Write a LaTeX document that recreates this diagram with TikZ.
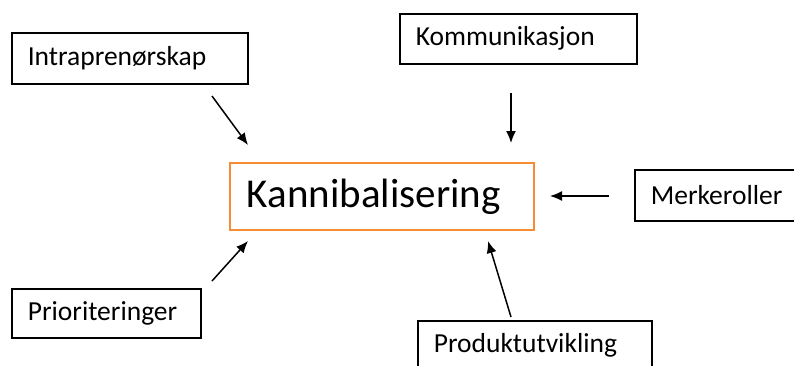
\documentclass[tikz,border=0pt]{standalone}
\usepackage{fontspec}
\setmainfont{Carlito}
\usetikzlibrary{arrows.meta}
\definecolor{boxorange}{RGB}{247,140,50}

\begin{document}
\begin{tikzpicture}[x=1pt, y=-1pt,
  every node/.style={font=\fontsize{27.5}{32}\selectfont},
  factor/.style={draw, line width=1.6pt, anchor=north west, inner xsep=16pt, align=left},
  pil/.style={-{Latex[length=12pt,width=10pt]}, line width=1.5pt}]
  % frame
  \clip (0,0) rectangle (794,365);

  % centre
  \node[factor, draw=boxorange, line width=1.8pt, inner xsep=17pt, text width=270pt,
        minimum height=67pt, font=\fontsize{41}{46}\selectfont] (kanni) at (229,162) {Kannibalisering};

  % surrounding factors
  \node[factor, text width=204pt, minimum height=51pt] (intra) at (11,32) {Intraprenørskap};
  \node[factor, text width=205pt, minimum height=50pt] (komm) at (399,13) {Kommunikasjon};
  \node[factor, text width=138pt, minimum height=51pt] (merke) at (634,169) {Merkeroller};
  \node[factor, text width=157pt, minimum height=49pt] (prio) at (11,288) {Prioriteringer};
  \node[factor, text width=202pt, minimum height=50pt] (prod) at (417,320) {Produktutvikling};

  % arrow ends
  \coordinate (intraA) at (212,96);  \coordinate (intraB) at (248,145);
  \coordinate (kommA) at (511,93);   \coordinate (kommB) at (511,143);
  \coordinate (merkeA) at (609,196); \coordinate (merkeB) at (550,196);
  \coordinate (prioA) at (212,281);  \coordinate (prioB) at (248,241);
  \coordinate (prodA) at (511,317);  \coordinate (prodB) at (488,241);

  % arrows
  \draw[pil] (intraA) -- (intraB);
  \draw[pil] (kommA) -- (kommB);
  \draw[pil] (merkeA) -- (merkeB);
  \draw[pil] (prioA) -- (prioB);
  \draw[pil] (prodA) -- (prodB);
\end{tikzpicture}
\end{document}
